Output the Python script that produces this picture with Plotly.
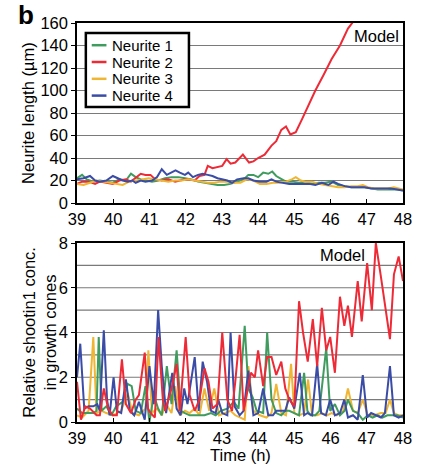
import plotly.graph_objects as go

# ---------------- data ----------------
# Top panel: neurite length (µm) vs time (h)
len_t1 = [39.00,39.14,39.27,39.45,39.63,39.81,39.99,40.17,40.35,40.49,40.62,40.76,40.89,41.07,41.25,41.43,41.61,41.80,41.98,42.16,42.34,42.52,42.70,42.88,43.06,43.24,43.42,43.60,43.73,43.87,44.00,44.14,44.28,44.39,44.50,44.64,44.77,44.95,45.13,45.31,45.49,45.67,45.85,46.03,46.21,46.39,46.57,46.75,46.94,47.12,47.30,47.48,47.66,47.84,48.00]
len_y1 = [22,25,21,19,20,19,18,21,20,26,23,21,20,19,20,22,23,23,22,21,19,18,17,16,16,17,19,21,25,25,23,27,26,28,24,21,19,19,18,19,17,18,18,19,16,15,14,14,14,13,12,12,12,12,11]

len_t2 = [39.00,39.14,39.32,39.50,39.63,39.81,39.99,40.17,40.35,40.49,40.62,40.76,40.89,41.03,41.16,41.34,41.52,41.71,41.84,42.02,42.25,42.38,42.52,42.61,42.74,42.88,43.01,43.13,43.24,43.37,43.58,43.75,43.87,44.00,44.18,44.37,44.50,44.64,44.77,44.89,45.04,45.22,45.36,45.58,45.81,46.03,46.26,46.48,46.62]
len_y2 = [17,19,19,17,19,18,17,20,21,19,22,26,25,25,21,20,21,19,20,21,20,24,25,33,31,32,33,39,35,36,43,36,37,40,43,51,55,65,68,61,63,75,85,100,114,128,140,155,161]

len_t3 = [39.00,39.18,39.36,39.54,39.72,39.90,40.08,40.26,40.44,40.62,40.80,40.98,41.16,41.34,41.52,41.71,41.89,42.07,42.25,42.43,42.61,42.79,42.97,43.15,43.33,43.51,43.69,43.87,44.05,44.23,44.41,44.59,44.77,44.93,45.04,45.18,45.31,45.49,45.67,45.85,46.03,46.21,46.39,46.57,46.75,46.89,47.03,47.21,47.39,47.57,47.75,48.00]
len_y3 = [17,16,18,20,19,18,17,16,19,20,21,22,21,20,19,20,20,21,20,19,18,18,19,19,18,18,21,20,17,17,18,18,19,21,23,20,19,19,17,16,15,14,14,15,15,16,14,13,13,13,14,12]

len_t4 = [39.00,39.18,39.36,39.50,39.63,39.81,39.99,40.13,40.26,40.40,40.53,40.62,40.76,40.89,41.07,41.21,41.34,41.48,41.61,41.72,41.84,41.98,42.07,42.20,42.34,42.47,42.61,42.74,42.88,43.01,43.15,43.28,43.42,43.60,43.73,43.87,44.05,44.23,44.37,44.50,44.68,44.86,45.04,45.22,45.40,45.58,45.76,45.94,46.08,46.21,46.39,46.57,46.75,46.94,47.12,47.30,47.48,47.66,47.84,48.00]
len_y4 = [21,22,24,20,19,20,24,22,20,19,20,18,20,19,20,23,30,25,27,29,27,25,27,23,25,26,25,24,22,21,20,18,21,22,22,20,19,19,21,19,18,17,17,17,17,16,18,16,19,17,15,14,14,14,13,13,13,13,12,11]

# Bottom panel: relative shootin1 concentration vs time (h)
con_t1 = [39.00,39.14,39.27,39.45,39.54,39.60,39.68,39.81,39.95,40.08,40.26,40.40,40.51,40.62,40.76,40.89,41.00,41.12,41.24,41.34,41.48,41.61,41.75,41.87,41.98,42.11,42.25,42.38,42.52,42.70,42.83,42.97,43.15,43.33,43.46,43.63,43.73,43.85,43.96,44.14,44.25,44.37,44.50,44.64,44.75,44.86,45.00,45.13,45.27,45.36,45.45,45.58,45.69,45.88,45.99,46.12,46.26,46.39,46.48,46.62,46.75,46.89,47.03,47.16,47.30,47.43,47.57,47.70,47.84,48.00]
con_y1 = [0.6,0.4,0.4,0.4,0.5,3.8,0.5,0.7,0.3,0.7,0.9,1.7,1.6,0.5,0.4,1.6,0.0,1.2,0.6,0.3,2.5,0.8,3.2,0.5,0.4,0.3,0.3,0.3,0.3,0.4,0.3,0.5,0.6,0.9,0.6,4.3,1.5,1.1,0.5,0.4,4.0,1.0,0.4,0.3,0.5,0.5,0.4,0.3,2.2,0.5,0.3,0.3,0.5,3.3,0.5,0.8,0.3,0.5,1.0,0.5,0.4,0.1,0.3,0.2,0.3,0.2,0.3,0.3,0.3,0.2]

con_t2 = [39.00,39.11,39.23,39.36,39.54,39.63,39.74,39.86,39.99,40.10,40.24,40.35,40.49,40.62,40.71,40.87,40.96,41.03,41.15,41.25,41.37,41.43,41.61,41.75,41.84,42.00,42.11,42.25,42.38,42.52,42.63,42.74,42.88,43.01,43.15,43.28,43.37,43.49,43.60,43.69,43.80,43.91,44.00,44.14,44.25,44.37,44.50,44.64,44.75,44.86,45.00,45.13,45.24,45.37,45.51,45.63,45.76,45.88,45.99,46.12,46.26,46.38,46.48,46.59,46.75,46.86,47.01,47.14,47.25,47.39,47.52,47.64,47.75,47.88,48.00]
con_y2 = [1.8,0.1,0.7,0.6,0.3,0.3,1.5,0.6,0.3,0.3,2.8,0.8,0.4,1.0,1.2,3.1,0.6,0.4,0.2,3.8,1.0,0.5,1.5,2.6,0.5,3.8,1.2,0.5,1.0,2.4,1.8,0.6,0.8,4.0,1.0,0.5,1.8,3.9,0.5,1.3,2.2,2.0,3.2,1.6,2.9,2.9,2.1,2.7,1.5,1.0,0.7,5.4,4.0,2.7,4.6,2.5,5.1,3.2,3.8,2.2,5.6,4.3,5.2,3.8,6.3,4.5,7.1,5.0,8.0,6.5,5.0,3.7,6.6,7.4,6.3]

con_t3 = [39.00,39.14,39.32,39.45,39.54,39.68,39.81,39.99,40.22,40.40,40.53,40.71,40.89,40.97,41.07,41.21,41.34,41.46,41.61,41.71,41.84,41.98,42.11,42.25,42.38,42.52,42.65,42.79,42.92,43.06,43.24,43.37,43.51,43.63,43.73,43.87,44.05,44.23,44.37,44.50,44.64,44.77,44.91,45.00,45.13,45.27,45.38,45.49,45.63,45.76,45.90,46.03,46.17,46.35,46.48,46.62,46.75,46.89,47.03,47.21,47.39,47.52,47.64,47.75,47.88,48.00]
con_y3 = [0.3,0.2,0.5,3.8,0.4,0.5,0.4,0.3,0.5,1.3,0.4,0.3,0.6,3.2,0.4,0.6,0.3,0.8,0.4,1.6,0.3,0.5,0.4,0.6,0.3,1.5,0.5,1.5,0.3,0.4,0.5,0.3,0.2,0.1,2.5,0.5,0.3,0.2,0.4,1.7,0.4,0.3,2.6,0.4,0.3,0.4,1.9,0.3,0.3,0.4,0.3,0.4,0.3,0.5,1.5,0.5,0.4,1.0,0.3,0.3,0.4,0.4,1.0,0.4,0.3,0.3]

con_t4 = [39.00,39.09,39.20,39.32,39.45,39.56,39.63,39.74,39.83,39.90,40.01,40.10,40.22,40.35,40.46,40.58,40.71,40.87,41.00,41.12,41.24,41.34,41.46,41.57,41.63,41.75,41.86,41.96,42.05,42.25,42.36,42.47,42.59,42.70,42.83,42.90,43.01,43.15,43.24,43.35,43.49,43.60,43.73,43.87,44.00,44.14,44.28,44.41,44.50,44.64,44.75,44.86,45.00,45.15,45.27,45.36,45.49,45.63,45.74,45.87,45.99,46.12,46.26,46.38,46.48,46.62,46.75,46.89,47.01,47.12,47.25,47.39,47.50,47.64,47.75,47.88,48.00]
con_y4 = [2.0,3.5,0.6,0.7,0.7,0.8,0.5,4.1,1.0,0.3,2.0,0.5,0.4,1.9,0.5,0.3,0.9,0.1,2.5,0.8,5.0,2.5,0.4,1.7,2.2,0.6,0.3,1.5,0.8,2.9,0.5,2.7,1.8,0.5,0.4,1.0,0.4,0.3,4.0,0.7,0.3,0.5,2.3,0.3,0.4,1.5,0.3,0.3,0.5,0.5,0.5,1.1,0.6,2.2,0.3,0.4,0.3,2.6,0.4,0.3,1.0,0.3,0.4,1.0,0.2,0.3,0.1,2.1,0.2,0.4,0.3,0.2,0.4,2.5,0.3,0.2,0.3]

names = ["Neurite 1", "Neurite 2", "Neurite 3", "Neurite 4"]
colors = ["#3f9b5e", "#ee2a36", "#f0b533", "#3a4ca6"]
x_ticks = [39, 40, 41, 42, 43, 44, 45, 46, 47, 48]

# ---------------- figure ----------------
FONT = "Liberation Sans, Arial, sans-serif"
FS = 16.5
LFS = 15
W, H = 424, 464
ML, MR, MT, MB = 77, 15, 23, 42
PW, PH = W - ML - MR, H - MT - MB


def px2x(px):
    return (px - ML) / PW


def px2y(py):
    return (H - MB - py) / PH


fig = go.Figure()

top_series = [(len_t1, len_y1), (len_t2, len_y2), (len_t3, len_y3), (len_t4, len_y4)]
bot_series = [(con_t1, con_y1), (con_t2, con_y2), (con_t3, con_y3), (con_t4, con_y4)]

for (t, y), n, c in zip(top_series, names, colors):
    fig.add_trace(go.Scatter(x=t, y=y, mode="lines", name=n, showlegend=False,
                             line=dict(color=c, width=2), xaxis="x", yaxis="y"))
for i in [2, 0, 3, 1]:
    t, y = bot_series[i]
    fig.add_trace(go.Scatter(x=t, y=y, mode="lines", name=names[i], showlegend=False,
                             line=dict(color=colors[i], width=2), xaxis="x2", yaxis="y2"))

axis_common = dict(showline=True, linecolor="black", linewidth=1.5, mirror=True,
                   tickfont=dict(family=FONT, size=FS, color="black"))
GRID = "#7a7a7a"

fig.update_layout(
    width=W, height=H,
    margin=dict(l=ML, r=MR, t=MT, b=MB),
    paper_bgcolor="white", plot_bgcolor="white",
    font=dict(family=FONT, color="black"),
    showlegend=False,
    xaxis=dict(domain=[0, 1], range=[39, 48], tickvals=x_ticks, anchor="y",
               showgrid=False, ticks="inside", ticklen=4, tickcolor="black", **axis_common),
    yaxis=dict(domain=[px2y(203), 1], range=[0, 160], tickvals=list(range(0, 161, 20)),
               showgrid=True, gridcolor=GRID, gridwidth=1.2, anchor="x",
               ticks="outside", ticklen=4, tickcolor="black", **axis_common),
    xaxis2=dict(domain=[0, 1], range=[39, 48], tickvals=x_ticks, anchor="y2",
                showgrid=False, ticks="inside", ticklen=4, tickcolor="black", **axis_common),
    yaxis2=dict(domain=[0, px2y(243)], range=[0, 8], tickvals=[0, 2, 4, 6, 8],
                showgrid=False, anchor="x2",
                ticks="outside", ticklen=4, tickcolor="black", **axis_common),
)

# horizontal gridlines for bottom panel at every integer
for g in range(1, 8):
    fig.add_shape(type="line", xref="x2 domain", yref="y2", x0=0, x1=1, y0=g, y1=g,
                  line=dict(color=GRID, width=1.2), layer="below")

# manual legend (compact, as in reference)
fig.add_shape(type="rect", xref="paper", yref="paper",
              x0=px2x(86), x1=px2x(191), y0=px2y(107), y1=px2y(33),
              line=dict(color="black", width=2.5), fillcolor="white", layer="above")
row_y = [45.2, 62.0, 78.8, 95.6]
for n, c, ry in zip(names, colors, row_y):
    fig.add_shape(type="line", xref="paper", yref="paper",
                  x0=px2x(92), x1=px2x(107), y0=px2y(ry), y1=px2y(ry),
                  line=dict(color=c, width=2.5), layer="above")
    fig.add_annotation(text=n, x=px2x(112), y=px2y(ry), xref="paper", yref="paper",
                       xanchor="left", yanchor="middle", showarrow=False, borderpad=0,
                       font=dict(family=FONT, size=LFS, color="black"))

# axis titles
fig.add_annotation(text="Neurite length (µm)", x=px2x(27), y=px2y(113),
                   xref="paper", yref="paper", textangle=-90, showarrow=False,
                   xanchor="center", yanchor="middle",
                   font=dict(family=FONT, size=FS, color="black"))
fig.add_annotation(text="Relative shootin1 conc.<br>in growth cones", x=px2x(38), y=px2y(332),
                   xref="paper", yref="paper", textangle=-90, showarrow=False,
                   xanchor="center", yanchor="middle",
                   font=dict(family=FONT, size=FS, color="black"))
fig.add_annotation(text="Time (h)", x=px2x(243), y=px2y(455),
                   xref="paper", yref="paper", showarrow=False,
                   xanchor="center", yanchor="middle",
                   font=dict(family=FONT, size=FS, color="black"))

fig.add_annotation(text="Model", x=px2x(382), y=px2y(36), xref="paper", yref="paper",
                   xanchor="center", yanchor="middle", showarrow=False,
                   font=dict(family=FONT, size=FS, color="black"))
fig.add_annotation(text="Model", x=px2x(347), y=px2y(255), xref="paper", yref="paper",
                   xanchor="center", yanchor="middle", showarrow=False,
                   font=dict(family=FONT, size=FS, color="black"))
fig.add_annotation(text="<b>b</b>", x=px2x(25), y=px2y(15), xref="paper", yref="paper",
                   xanchor="center", yanchor="middle", showarrow=False,
                   font=dict(family=FONT, size=26, color="black"))

fig.write_html("out.html")
